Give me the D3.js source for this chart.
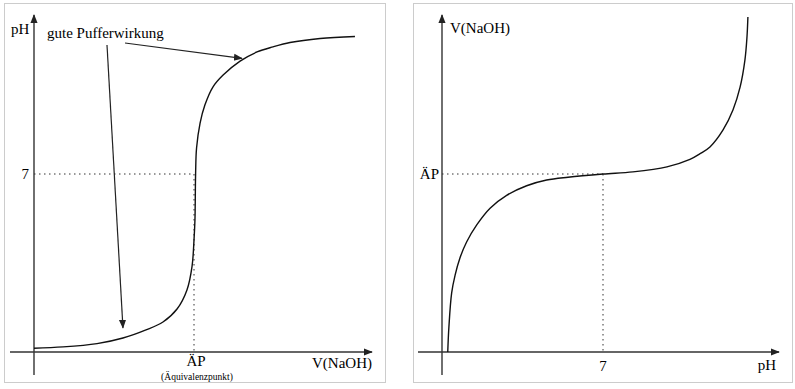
<!DOCTYPE html>
<html lang="de">
<head>
<meta charset="UTF-8">
<title>Titrationskurve</title>
<style>
    body { margin: 0; background: #fff; }
    svg { display: block; }
</style>
</head>
<body>
<svg id="chart" width="795" height="389"></svg>
<script src="https://d3js.org/d3.v7.min.js"></script>
<script>
    // Titrationskurve: pH gegen V(NaOH)
    const titVolume = [0, 0.91, 1.97, 2.78, 3.5, 4.03, 4.47, 4.78, 4.94, 5.0, 5.03, 5.05, 5.08, 5.19, 5.34, 5.59, 5.91, 6.44, 6.97, 7.47, 8.0, 8.94, 10.03];
    const titPH     = [0.15, 0.2, 0.33, 0.55, 0.87, 1.18, 1.69, 2.44, 3.38, 4.4, 5.2, 7.0, 8.02, 9.0, 9.71, 10.42, 10.89, 11.44, 11.8, 12.0, 12.17, 12.33, 12.41];

    // Umgekehrte Darstellung: V(NaOH) gegen pH
    const invPH     = [0.25, 0.3, 0.42, 0.57, 0.78, 1.07, 1.51, 2.09, 2.81, 3.68, 4.55, 5.48, 7.0, 8.3, 9.78, 10.78, 11.22, 11.65, 12.22, 12.65, 12.96, 13.17, 13.26, 13.3];
    const invVolume = [0, 0.7, 1.66, 2.16, 2.64, 3.09, 3.57, 4.04, 4.4, 4.67, 4.83, 4.91, 5.0, 5.06, 5.2, 5.41, 5.57, 5.76, 6.24, 6.8, 7.44, 8.2, 8.85, 9.41];

    const equivVolume = 5;   // ÄP
    const neutralPH = 7;

    const svg = d3.select("#chart")
        .attr("font-family", "'Liberation Serif', 'Times New Roman', 'DejaVu Serif', serif");
    svg.append("rect").attr("width", 795).attr("height", 389).attr("fill", "#fff");

    const defs = svg.append("defs");
    defs.append("marker")
        .attr("id", "arrow")
        .attr("viewBox", "0 0 10 10")
        .attr("refX", 9).attr("refY", 5)
        .attr("markerWidth", 9).attr("markerHeight", 9)
        .attr("markerUnits", "userSpaceOnUse")
        .attr("orient", "auto")
        .append("path")
        .attr("d", "M0,1 L10,5 L0,9 Z")
        .attr("fill", "#222");

    const axisColor = "#333";
    const dotted = "1.5,3.5";

    // ---------- linke Grafik ----------
    const left = svg.append("g");
    left.append("rect")
        .attr("x", 4.5).attr("y", 3.5).attr("width", 381).attr("height", 379)
        .attr("fill", "none").attr("stroke", "#ccc");

    const xL = d3.scaleLinear().domain([0, 10]).range([34, 354]);
    const yL = d3.scaleLinear().domain([0, 7]).range([352, 174]);

    // Achsen
    left.append("line")
        .attr("x1", xL(0)).attr("x2", xL(0)).attr("y1", 375).attr("y2", 15)
        .attr("stroke", axisColor).attr("stroke-width", 1.4).attr("marker-end", "url(#arrow)");
    left.append("line")
        .attr("x1", 10).attr("x2", 372).attr("y1", yL(0)).attr("y2", yL(0))
        .attr("stroke", axisColor).attr("stroke-width", 1.4).attr("marker-end", "url(#arrow)");

    // Hilfslinien
    left.append("line")
        .attr("x1", xL(0)).attr("x2", xL(equivVolume)).attr("y1", yL(neutralPH)).attr("y2", yL(neutralPH))
        .attr("stroke", "#333").attr("stroke-dasharray", dotted);
    left.append("line")
        .attr("x1", xL(equivVolume)).attr("x2", xL(equivVolume)).attr("y1", yL(neutralPH)).attr("y2", yL(0))
        .attr("stroke", "#333").attr("stroke-dasharray", dotted);

    const lineL = d3.line()
        .x(d => xL(d[0])).y(d => yL(d[1]))
        .curve(d3.curveCatmullRom.alpha(0.5));
    left.append("path")
        .datum(d3.zip(titVolume, titPH))
        .attr("d", lineL)
        .attr("fill", "none").attr("stroke", "#111").attr("stroke-width", 1.4);

    // Beschriftung
    left.append("text").attr("x", 11).attr("y", 34).attr("font-size", 15).text("pH");
    left.append("text").attr("x", 29).attr("y", 179).attr("font-size", 15).attr("text-anchor", "end").text("7");
    left.append("text").attr("x", xL(equivVolume) + 2).attr("y", 366).attr("font-size", 15)
        .attr("text-anchor", "middle").text("ÄP");
    left.append("text").attr("x", xL(equivVolume) + 3).attr("y", 380).attr("font-size", 9.5)
        .attr("text-anchor", "middle").text("(Äquivalenzpunkt)");
    left.append("text").attr("x", 372).attr("y", 368).attr("font-size", 15)
        .attr("text-anchor", "end").text("V(NaOH)");

    left.append("text").attr("x", 47).attr("y", 38).attr("font-size", 15).text("gute Pufferwirkung");
    // Pfeile zur Kurve
    left.append("line")
        .attr("x1", 125).attr("y1", 43).attr("x2", xL(6.5)).attr("y2", yL(11.55))
        .attr("stroke", "#222").attr("stroke-width", 1.2).attr("marker-end", "url(#arrow)");
    left.append("line")
        .attr("x1", 107).attr("y1", 45).attr("x2", xL(2.78)).attr("y2", yL(0.95))
        .attr("stroke", "#222").attr("stroke-width", 1.2).attr("marker-end", "url(#arrow)");

    // ---------- rechte Grafik ----------
    const right = svg.append("g");
    right.append("rect")
        .attr("x", 413.5).attr("y", 3.5).attr("width", 379).attr("height", 379)
        .attr("fill", "none").attr("stroke", "#ccc");

    const xR = d3.scaleLinear().domain([0, 7]).range([442, 603]);
    const yR = d3.scaleLinear().domain([0, 5]).range([352, 174]);

    right.append("line")
        .attr("x1", xR(0)).attr("x2", xR(0)).attr("y1", 375).attr("y2", 15)
        .attr("stroke", axisColor).attr("stroke-width", 1.4).attr("marker-end", "url(#arrow)");
    right.append("line")
        .attr("x1", 418).attr("x2", 779).attr("y1", yR(0)).attr("y2", yR(0))
        .attr("stroke", axisColor).attr("stroke-width", 1.4).attr("marker-end", "url(#arrow)");

    right.append("line")
        .attr("x1", xR(0)).attr("x2", xR(neutralPH)).attr("y1", yR(equivVolume)).attr("y2", yR(equivVolume))
        .attr("stroke", "#333").attr("stroke-dasharray", dotted);
    right.append("line")
        .attr("x1", xR(neutralPH)).attr("x2", xR(neutralPH)).attr("y1", yR(equivVolume)).attr("y2", yR(0))
        .attr("stroke", "#333").attr("stroke-dasharray", dotted);

    const lineR = d3.line()
        .x(d => xR(d[0])).y(d => yR(d[1]))
        .curve(d3.curveCatmullRom.alpha(0.5));
    right.append("path")
        .datum(d3.zip(invPH, invVolume))
        .attr("d", lineR)
        .attr("fill", "none").attr("stroke", "#111").attr("stroke-width", 1.4);

    right.append("text").attr("x", 450).attr("y", 33).attr("font-size", 15).text("V(NaOH)");
    right.append("text").attr("x", 439).attr("y", 179).attr("font-size", 15).attr("text-anchor", "end").text("ÄP");
    right.append("text").attr("x", xR(neutralPH)).attr("y", 371).attr("font-size", 15)
        .attr("text-anchor", "middle").text("7");
    right.append("text").attr("x", 776).attr("y", 370).attr("font-size", 15)
        .attr("text-anchor", "end").text("pH");
</script>
</body>
</html>
